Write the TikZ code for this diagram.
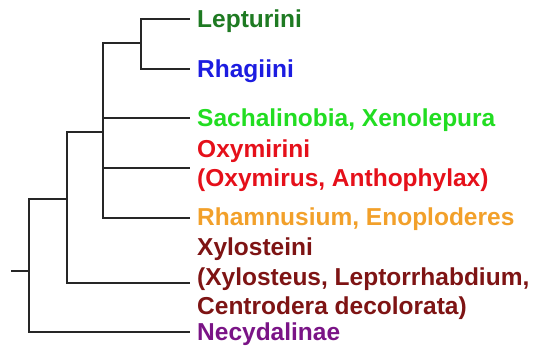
\documentclass[tikz,border=0pt]{standalone}
\usepackage{fontspec}
\setmainfont{Liberation Sans}
\usetikzlibrary{positioning}
\definecolor{lepc}{HTML}{1E7A22}
\definecolor{rhac}{HTML}{1C1CE0}
\definecolor{sacc}{HTML}{22DD22}
\definecolor{oxyc}{HTML}{E5101A}
\definecolor{rhmc}{HTML}{F2A02A}
\definecolor{xylc}{HTML}{7E1414}
\definecolor{necc}{HTML}{7A1486}
\tikzset{
  branch/.style={line width=1.9pt,draw=black!85},
  taxon/.style={anchor=base west,inner sep=0pt,align=left,text=#1,
    font=\fontsize{24.5}{29.5}\selectfont\bfseries},
  taxon/.default=black,
}

\begin{document}
\begin{tikzpicture}[x=1pt,y=-1pt]
    \useasboundingbox (0,0) rectangle (533,347);

    \coordinate (root) at (11,271);
    \coordinate (n1) at (29,271);
    \coordinate (n2) at (67,199);
    \coordinate (n3) at (103,132);
    \coordinate (n4) at (141,43);

    \coordinate (tlep) at (190,19);
    \coordinate (trha) at (190,69);
    \coordinate (tsac) at (190,118);
    \coordinate (toxy) at (190,168);
    \coordinate (trhm) at (190,218);
    \coordinate (txyl) at (190,283);
    \coordinate (tnec) at (190,332);

    \draw[branch] (root) -- (n1);
    \draw[branch] (n1) |- (n2);
    \draw[branch] (n1) |- (tnec);
    \draw[branch] (n2) |- (n3);
    \draw[branch] (n2) |- (txyl);
    \draw[branch] (n3) |- (n4);
    \draw[branch] (n3) |- (tsac);
    \draw[branch] (n3) |- (toxy);
    \draw[branch] (n3) |- (trhm);
    \draw[branch] (n4) |- (tlep);
    \draw[branch] (n4) |- (trha);

    \node[taxon=lepc] (lep) at (197,28) {Lepturini};
    \node[taxon=rhac] (rha) at (197,78) {Rhagiini};
    \node[taxon=sacc] (sac) at (197,127) {Sachalinobia, Xenolepura};
    \node[taxon=oxyc] (oxy) at (197,187) {Oxymirini\\(Oxymirus, Anthophylax)};
    \node[taxon=rhmc] (rhm) at (197,226) {Rhamnusium, Enoploderes};
    \node[taxon=xylc] (xyl) at (197,315)
      {Xylosteini\\(Xylosteus, Leptorrhabdium,\\Centrodera decolorata)};
    \node[taxon=necc] (nec) at (197,341) {Necydalinae};
\end{tikzpicture}
\end{document}
